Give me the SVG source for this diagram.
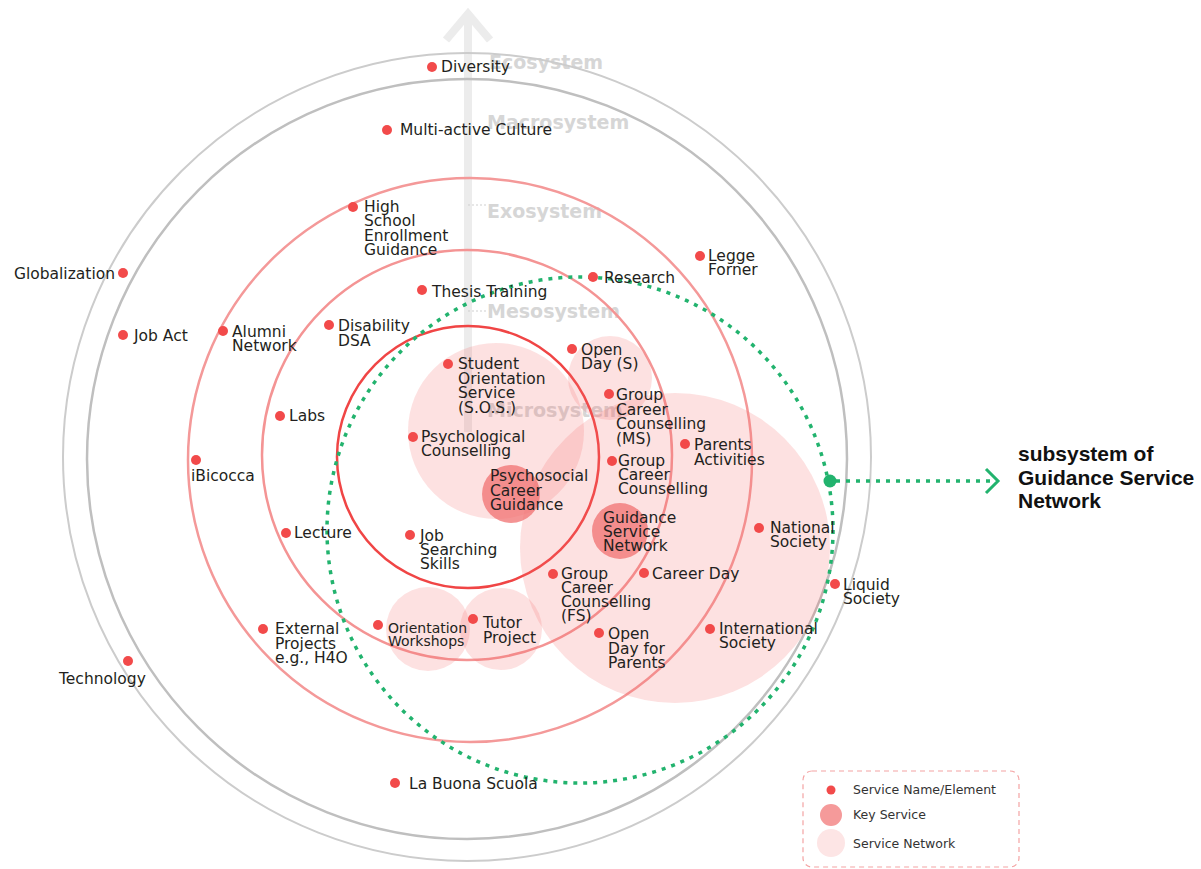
<svg xmlns="http://www.w3.org/2000/svg" width="1201" height="869" viewBox="0 0 1201 869">
<style>
  .t{font-family:"DejaVu Sans",sans-serif;font-size:15.5px;fill:#231f20}
  .sys{font-family:"DejaVu Sans",sans-serif;font-weight:bold;font-size:19px;fill:#d6d6d6}
  .dot{fill:#f24a4a}
  .net{fill:#f46b6b;fill-opacity:0.2}
  .key{fill:#f07070;fill-opacity:0.75}
  .lg{font-family:"DejaVu Sans",sans-serif;font-size:12.5px;fill:#333}
</style>
<rect width="1201" height="869" fill="#ffffff"/>

<g id="axis">
  <line x1="468" y1="14" x2="468" y2="432" stroke="#ececec" stroke-width="8"/>
  <polyline points="446,40 468,14 490,40" fill="none" stroke="#ececec" stroke-width="8"/>
  <line x1="468" y1="205" x2="486" y2="205" stroke="#cfcfcf" stroke-width="1" stroke-dasharray="2 2"/>
  <line x1="468" y1="311" x2="486" y2="311" stroke="#cfcfcf" stroke-width="1" stroke-dasharray="2 2"/>
  <text class="sys" x="489" y="69">Ecosystem</text>
  <text class="sys" x="487" y="129">Macrosystem</text>
  <text class="sys" x="487" y="218">Exosystem</text>
  <text class="sys" x="487" y="318">Mesosystem</text>
  <text class="sys" x="487" y="417">Microsystem</text>
</g>

<g id="rings" fill="none">
  <circle cx="467" cy="457" r="404" stroke="#cccccc" stroke-width="2"/>
  <circle cx="467" cy="459" r="380" stroke="#bfbfbf" stroke-width="2.5"/>
  <circle cx="470" cy="460" r="282" stroke="#f49999" stroke-width="2.5"/>
  <circle cx="467" cy="455" r="205" stroke="#f49494" stroke-width="2.5"/>
  <circle cx="468" cy="457" r="131" stroke="#f04545" stroke-width="2.5"/>
</g>

<g id="networks">
  <circle class="net" cx="496" cy="431" r="88"/>
  <circle class="net" cx="610" cy="378" r="42"/>
  <circle class="net" cx="675" cy="548" r="155"/>
  <circle class="net" cx="428" cy="629" r="42"/>
  <circle class="net" cx="501" cy="629" r="41"/>
  <circle class="key" cx="511" cy="494" r="29"/>
  <circle class="key" cx="620" cy="531" r="28"/>
</g>

<g id="connectors">
  <circle cx="580" cy="530" r="253" fill="none" stroke="#22b36e" stroke-width="3.5" stroke-dasharray="4 6"/>
  <line x1="836" y1="481" x2="994" y2="481" stroke="#22b36e" stroke-width="3.5" stroke-dasharray="4 6"/>
  <polyline points="986,469 998,481 986,493" fill="none" stroke="#22b36e" stroke-width="3"/>
  <circle cx="830" cy="481" r="6.5" fill="#22b36e"/>
</g>

<g id="subsystem-label" font-family="Liberation Sans, Arial, sans-serif" font-weight="bold" font-size="21" fill="#111">
  <text x="1018" y="461">subsystem of</text>
  <text x="1018" y="485">Guidance Service</text>
  <text x="1018" y="508">Network</text>
</g>

<g id="diversity"><circle class="dot" cx="432" cy="67" r="5"/><text class="t" x="441" y="72">Diversity</text></g>
<g id="multi-active-culture"><circle class="dot" cx="387" cy="130" r="5"/><text class="t" x="400" y="135">Multi-active Culture</text></g>
<g id="high-school"><circle class="dot" cx="353" cy="207" r="5"/><text class="t" x="364" y="212"><tspan x="364" y="212">High</tspan><tspan x="364" y="226">School</tspan><tspan x="364" y="241">Enrollment</tspan><tspan x="364" y="255">Guidance</tspan></text></g>
<g id="legge-forner"><circle class="dot" cx="700" cy="256" r="5"/><text class="t"><tspan x="708" y="261">Legge</tspan><tspan x="708" y="275">Forner</tspan></text></g>
<g id="globalization"><circle class="dot" cx="123" cy="273" r="5"/><text class="t" x="115" y="279" text-anchor="end">Globalization</text></g>
<g id="research"><circle class="dot" cx="593" cy="277" r="5"/><text class="t" x="604" y="283">Research</text></g>
<g id="thesis-training"><circle class="dot" cx="422" cy="290" r="5"/><text class="t" x="432" y="297">Thesis Training</text></g>
<g id="job-act"><circle class="dot" cx="123" cy="335" r="5"/><text class="t" x="134" y="341">Job Act</text></g>
<g id="alumni-network"><circle class="dot" cx="223" cy="331" r="5"/><text class="t"><tspan x="232" y="337">Alumni</tspan><tspan x="232" y="351">Network</tspan></text></g>
<g id="disability-dsa"><circle class="dot" cx="329" cy="325" r="5"/><text class="t"><tspan x="338" y="331">Disability</tspan><tspan x="338" y="346">DSA</tspan></text></g>
<g id="open-day-s"><circle class="dot" cx="572" cy="349" r="5"/><text class="t"><tspan x="581" y="355">Open</tspan><tspan x="581" y="369">Day (S)</tspan></text></g>
<g id="sos"><circle class="dot" cx="448" cy="364" r="5"/><text class="t"><tspan x="458" y="369">Student</tspan><tspan x="458" y="384">Orientation</tspan><tspan x="458" y="398">Service</tspan><tspan x="458" y="413">(S.O.S.)</tspan></text></g>
<g id="gcc-ms"><circle class="dot" cx="609" cy="394" r="5"/><text class="t"><tspan x="616" y="400">Group</tspan><tspan x="616" y="415">Career</tspan><tspan x="616" y="429">Counselling</tspan><tspan x="616" y="444">(MS)</tspan></text></g>
<g id="labs"><circle class="dot" cx="280" cy="416" r="5"/><text class="t" x="289" y="421">Labs</text></g>
<g id="psychological-counselling"><circle class="dot" cx="413" cy="437" r="5"/><text class="t"><tspan x="421" y="442">Psychological</tspan><tspan x="421" y="456">Counselling</tspan></text></g>
<g id="parents-activities"><circle class="dot" cx="685" cy="444" r="5"/><text class="t"><tspan x="694" y="450">Parents</tspan><tspan x="694" y="465">Activities</tspan></text></g>
<g id="gcc"><circle class="dot" cx="612" cy="461" r="5"/><text class="t"><tspan x="618" y="466">Group</tspan><tspan x="618" y="480">Career</tspan><tspan x="618" y="494">Counselling</tspan></text></g>
<g id="ibicocca"><circle class="dot" cx="196" cy="460" r="5"/><text class="t" x="191" y="481">iBicocca</text></g>
<g id="psychosocial-career-guidance"><text class="t"><tspan x="490" y="481">Psychosocial</tspan><tspan x="490" y="496">Career</tspan><tspan x="490" y="510">Guidance</tspan></text></g>
<g id="guidance-service-network"><text class="t"><tspan x="603" y="523">Guidance</tspan><tspan x="603" y="537">Service</tspan><tspan x="603" y="551">Network</tspan></text></g>
<g id="national-society"><circle class="dot" cx="759" cy="528" r="5"/><text class="t"><tspan x="770" y="533">National</tspan><tspan x="770" y="547">Society</tspan></text></g>
<g id="lecture"><circle class="dot" cx="286" cy="533" r="5"/><text class="t" x="294" y="538">Lecture</text></g>
<g id="job-searching-skills"><circle class="dot" cx="410" cy="535" r="5"/><text class="t"><tspan x="420" y="541">Job</tspan><tspan x="420" y="555">Searching</tspan><tspan x="420" y="569">Skills</tspan></text></g>
<g id="career-day"><circle class="dot" cx="644" cy="573" r="5"/><text class="t" x="652" y="579">Career Day</text></g>
<g id="gcc-fs"><circle class="dot" cx="553" cy="574" r="5"/><text class="t"><tspan x="561" y="579">Group</tspan><tspan x="561" y="593">Career</tspan><tspan x="561" y="607">Counselling</tspan><tspan x="561" y="621">(FS)</tspan></text></g>
<g id="liquid-society"><circle class="dot" cx="835" cy="584" r="5"/><text class="t"><tspan x="843" y="590">Liquid</tspan><tspan x="843" y="604">Society</tspan></text></g>
<g id="orientation-workshops"><circle class="dot" cx="378" cy="625" r="5"/><text class="t" style="font-size:14px"><tspan x="388" y="633">Orientation</tspan><tspan x="388" y="646">Workshops</tspan></text></g>
<g id="tutor-project"><circle class="dot" cx="473" cy="619" r="5"/><text class="t"><tspan x="483" y="628">Tutor</tspan><tspan x="483" y="643">Project</tspan></text></g>
<g id="open-day-parents"><circle class="dot" cx="599" cy="633" r="5"/><text class="t"><tspan x="608" y="639">Open</tspan><tspan x="608" y="654">Day for</tspan><tspan x="608" y="668">Parents</tspan></text></g>
<g id="external-projects"><circle class="dot" cx="263" cy="629" r="5"/><text class="t"><tspan x="275" y="634">External</tspan><tspan x="275" y="649">Projects</tspan><tspan x="275" y="663">e.g., H4O</tspan></text></g>
<g id="international-society"><circle class="dot" cx="710" cy="629" r="5"/><text class="t"><tspan x="719" y="634">International</tspan><tspan x="719" y="648">Society</tspan></text></g>
<g id="technology"><circle class="dot" cx="128" cy="661" r="5"/><text class="t" x="59" y="684">Technology</text></g>
<g id="la-buona-scuola"><circle class="dot" cx="395" cy="783" r="5"/><text class="t" x="409" y="789">La Buona Scuola</text></g>

<g id="legend">
  <rect x="803" y="771" width="216" height="96" rx="9" fill="none" stroke="#f4a3a3" stroke-width="1.2" stroke-dasharray="5 4"/>
  <circle cx="831" cy="790" r="4.5" class="dot"/>
  <circle cx="831" cy="815" r="11" fill="#f59a9a"/>
  <circle cx="831" cy="843" r="14" fill="#fde5e5"/>
  <text class="lg" x="853" y="794">Service Name/Element</text>
  <text class="lg" x="853" y="819">Key Service</text>
  <text class="lg" x="853" y="848">Service Network</text>
</g>
</svg>
